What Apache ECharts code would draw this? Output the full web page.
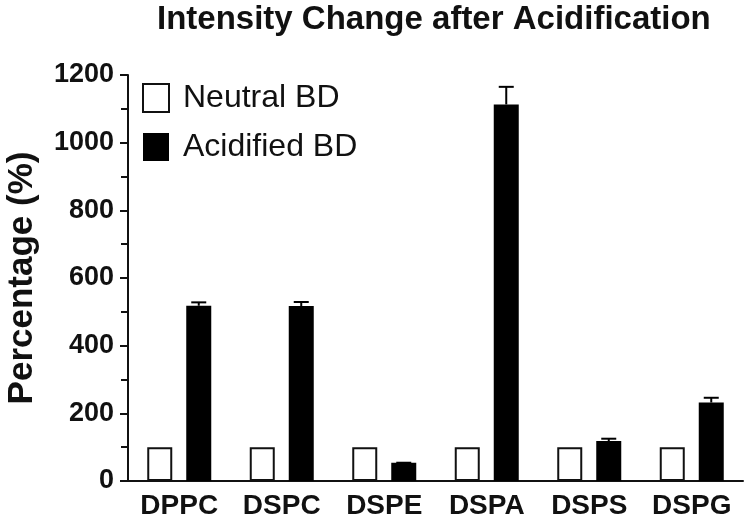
<!DOCTYPE html>
<html>
<head>
<meta charset="utf-8">
<script src="https://cdn.jsdelivr.net/npm/echarts@6/dist/echarts.min.js"></script>
<style>
  html, body { margin: 0; padding: 0; background: #ffffff; }
  #chart { width: 750px; height: 522px; }
</style>
</head>
<body>
<div id="chart"></div>
<script>
const categories = ['DPPC', 'DSPC', 'DSPE', 'DSPA', 'DSPS', 'DSPG'];
const neutralValues = [100, 100, 100, 100, 100, 100];
const acidifiedValues = [518, 517, 54, 1113, 118, 232];
const acidifiedErrors = [10, 12, 0, 52, 7, 14];
const yTicks = { min: 0, max: 1200, interval: 200 };
const seriesNames = ['Neutral BD', 'Acidified BD'];

const FONT = "'Liberation Sans', Arial, Helvetica, sans-serif";
const BAR_W = 25;
const BAR_GAP = 14;

const errorData = categories.map((c, i) => [i, acidifiedValues[i], acidifiedErrors[i]]);

const chart = echarts.init(document.getElementById('chart'), null, { renderer: 'canvas' });
chart.setOption({
  backgroundColor: '#ffffff',
  animation: false,
  title: {
    text: 'Intensity Change after Acidification',
    left: 157,
    top: 3,
    padding: 0,
    textStyle: { fontFamily: FONT, fontSize: 33, fontWeight: 'bold', color: '#111' }
  },
  legend: {
    orient: 'vertical',
    left: 142,
    top: 82,
    padding: 0,
    itemWidth: 26,
    itemHeight: 28,
    itemGap: 17,
    selectedMode: false,
    data: [
      { name: seriesNames[0], icon: 'rect', itemStyle: { color: '#ffffff', borderColor: '#111', borderWidth: 2 } },
      { name: seriesNames[1], icon: 'rect', itemStyle: { color: '#000000', borderColor: '#000', borderWidth: 0 } }
    ],
    textStyle: { fontFamily: FONT, fontSize: 32, color: '#111', lineHeight: 28, padding: [4, 0, 0, 9] }
  },
  grid: { left: 128, right: 7, top: 75, bottom: 41, containLabel: false, outerBoundsMode: 'none' },
  xAxis: {
    type: 'category',
    data: categories,
    axisLine: { lineStyle: { color: '#111', width: 2 } },
    axisTick: { alignWithLabel: true, length: 6, lineStyle: { color: '#111', width: 2 } },
    axisLabel: { interval: 0, fontFamily: FONT, fontSize: 28, fontWeight: 'bold', color: '#111', margin: 11 },
    splitLine: { show: false }
  },
  yAxis: {
    type: 'value',
    min: yTicks.min,
    max: yTicks.max,
    interval: yTicks.interval,
    name: 'Percentage (%)',
    nameLocation: 'middle',
    nameGap: 88,
    nameTextStyle: { fontFamily: FONT, fontSize: 35, fontWeight: 'bold', color: '#111' },
    axisLine: { show: true, lineStyle: { color: '#111', width: 2 } },
    axisTick: { show: true, length: 8, lineStyle: { color: '#111', width: 2 } },
    minorTick: { show: true, splitNumber: 2, length: 7, lineStyle: { color: '#111', width: 2 } },
    axisLabel: {
      fontFamily: FONT, fontSize: 27, fontWeight: 'bold', color: '#111', margin: 14,
      formatter: function (v) { return String(v); }
    },
    splitLine: { show: false }
  },
  series: [
    {
      name: seriesNames[0],
      type: 'bar',
      data: neutralValues,
      barWidth: BAR_W,
      barGap: (BAR_GAP / BAR_W * 100) + '%',
      itemStyle: { color: '#ffffff', borderColor: '#111', borderWidth: 2 }
    },
    {
      name: seriesNames[1],
      type: 'bar',
      data: acidifiedValues,
      barWidth: BAR_W,
      barGap: (BAR_GAP / BAR_W * 100) + '%',
      itemStyle: { color: '#000000', borderColor: '#000', borderWidth: 2 }
    },
    {
      name: 'error',
      type: 'custom',
      data: errorData,
      encode: { x: 0, y: 1 },
      z: 5,
      renderItem: function (params, api) {
        const idx = api.value(0);
        const v = api.value(1);
        const e = api.value(2);
        const offset = (BAR_W + BAR_GAP) / 2;
        const p0 = api.coord([idx, v]);
        const p1 = api.coord([idx, v + e]);
        const x = p0[0] + offset;
        const capHalf = 7.5;
        const style = { stroke: '#000', lineWidth: 2, fill: null };
        return {
          type: 'group',
          children: [
            { type: 'line', shape: { x1: x, y1: p0[1], x2: x, y2: p1[1] }, style: style },
            { type: 'line', shape: { x1: x - capHalf, y1: p1[1], x2: x + capHalf, y2: p1[1] }, style: style }
          ]
        };
      }
    }
  ]
});
</script>
</body>
</html>
